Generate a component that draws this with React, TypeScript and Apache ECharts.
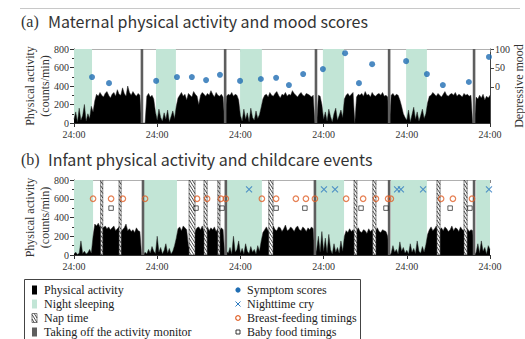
import React, { useEffect, useRef } from "react";
import * as echarts from "echarts";

// ---------- shared axis data ----------
const STEP_HOURS = 0.5; // activity sampled every half hour
const X_MAX = 120;
const X_TICK = 24;
const X_TICK_LABEL = "24:00";
const ACT_MAX = 800;
const ACT_INTERVAL = 200;
const MOOD_MIN = -95;
const MOOD_MAX = 100;
const MOOD_TICKS = [0, 50, 100];

// ---------- (a) maternal ----------
const momActDay1 = [40, 120, 10, 160, 30, 80, 200, 20, 100, 50, 180, 120, 240, 310, 290, 330, 300, 280, 320, 340, 300, 270, 310, 330, 290, 360, 310, 300, 380, 320, 290, 400, 330, 300, 340, 310, 290, 320, 300, 0, 0, 0, 290, 320, 280, 300, 260, 120];
const momActDay2 = [30, 150, 60, 20, 110, 40, 140, 10, 70, 130, 50, 180, 270, 300, 330, 290, 310, 250, 320, 300, 280, 340, 310, 290, 200, 300, 330, 310, 290, 320, 300, 350, 310, 280, 330, 300, 290, 310, 280, 0, 290, 310, 300, 330, 290, 310, 300, 250];
const momActDay3 = [80, 20, 150, 40, 110, 10, 160, 60, 30, 130, 50, 90, 170, 260, 300, 310, 280, 330, 300, 290, 320, 340, 300, 270, 310, 300, 330, 290, 310, 300, 350, 320, 300, 280, 310, 330, 300, 290, 320, 310, 300, 280, 300, 0, 0, 300, 290, 200];
const momActDay4 = [40, 120, 20, 150, 70, 10, 100, 160, 30, 80, 140, 60, 260, 300, 320, 290, 310, 330, 0, 280, 310, 300, 320, 290, 340, 300, 310, 280, 330, 300, 290, 310, 320, 300, 330, 290, 300, 280, 0, 300, 320, 290, 310, 300, 250, 180, 100, 60];
const momActDay5 = [30, 140, 10, 90, 170, 40, 120, 20, 80, 150, 50, 100, 220, 290, 300, 330, 310, 290, 320, 300, 280, 310, 340, 300, 290, 310, 320, 300, 330, 290, 310, 300, 280, 320, 300, 310, 290, 300, 0, 0, 280, 260, 300, 270, 310, 250, 290, 270];
const momActEnd = [300];
const momSleep = [[0, 5.2], [23.65, 29.4], [47.9, 54.2], [71.8, 77.9], [95.8, 101.8]];
const momMonitorOff = [19.6, 43.6, 69.8, 90.9, 115.4];
const moodHours = [5.2, 10.1, 23.7, 29.7, 34.0, 38.1, 42.1, 47.9, 53.9, 58.3, 62.0, 66.1, 71.8, 78.2, 82.2, 86.0, 95.8, 101.8, 106.4, 113.9, 119.7];
const moodScores = [26, 10, 16, 26, 26, 18, 32, 16, 21, 24, 5, 34, 47, 89, 10, 60, 68, 34, 5, 13, 79];

// ---------- (b) infant ----------
const babyActDay1 = [10, 30, 5, 20, 150, 15, 40, 10, 25, 60, 20, 200, 330, 310, 340, 300, 320, 290, 310, 280, 300, 270, 290, 310, 260, 280, 300, 250, 270, 290, 330, 260, 280, 250, 270, 240, 290, 260, 250, 0, 0, 30, 10, 60, 20, 90, 40, 15];
const babyActDay2 = [200, 30, 80, 10, 50, 120, 20, 70, 10, 40, 100, 180, 280, 300, 260, 310, 290, 270, 100, 60, 80, 120, 260, 290, 300, 270, 310, 250, 280, 300, 260, 290, 270, 300, 250, 280, 260, 290, 270, 0, 40, 20, 80, 10, 200, 30, 60, 150];
const babyActDay3 = [20, 70, 10, 120, 40, 15, 90, 30, 60, 10, 100, 40, 150, 240, 270, 300, 260, 250, 280, 310, 270, 260, 300, 290, 250, 280, 320, 260, 270, 300, 280, 250, 290, 310, 270, 260, 300, 280, 250, 290, 270, 300, 280, 0, 60, 200, 30, 250];
const babyActDay4 = [40, 180, 20, 220, 60, 10, 120, 30, 80, 20, 150, 40, 200, 260, 240, 280, 250, 270, 230, 260, 290, 250, 240, 270, 260, 230, 280, 250, 270, 240, 260, 290, 250, 240, 270, 260, 250, 200, 0, 20, 100, 30, 60, 10, 140, 40, 80, 20];
const babyActDay5 = [50, 10, 120, 30, 70, 15, 150, 40, 20, 90, 30, 110, 220, 270, 300, 260, 280, 310, 250, 270, 290, 260, 300, 280, 250, 270, 310, 260, 290, 280, 250, 300, 270, 260, 290, 280, 250, 270, 260, 0, 30, 120, 20, 150, 40, 80, 10, 100];
const babyActEnd = [60];
const babySleep = [[0, 5.5], [20.2, 29.7], [44.1, 54.2], [69.5, 77.9], [91.4, 101.8], [116, 120]];
const babyNaps = [[7.7, 8.3], [13.0, 13.6], [33.2, 34.9], [37.5, 38.4], [41.5, 42.1], [56.2, 57.4], [80.8, 81.6], [86.2, 87.1], [104.7, 105.6], [112.5, 113.4]];
const babyMonitorOff = [19.9, 43.8, 69.5, 90.9, 115.4];
const cryHours = [50.5, 72.1, 75.3, 93.2, 94.3, 100.7, 119.7];
const feedHours = [5.5, 10.7, 14.1, 20.5, 35.5, 38.4, 42.4, 43.8, 54.2, 58.3, 64.0, 66.9, 69.5, 78.5, 83.4, 87.1, 90.6, 91.4, 105.9, 109.3, 114.8];
const foodHours = [10.7, 35.2, 42.7, 58.3, 66.6, 82.8, 90.0, 108.5, 114.2];
const CRY_LEVEL = 700;
const FEED_LEVEL = 600;
const FOOD_LEVEL = 500;

// ---------- texts ----------
const TITLE_A_TAG = "(a)";
const TITLE_A = "Maternal physical activity and mood scores";
const TITLE_B_TAG = "(b)";
const TITLE_B = "Infant physical activity and childcare events";
const ACT_NAME = "Physical activity\n(counts/min)";
const MOOD_NAME = "Depressive mood";
const LEGEND_LEFT = ["Physical activity", "Night sleeping", "Nap time", "Taking off the activity monitor"];
const LEGEND_RIGHT = ["Symptom scores", "Nighttime cry", "Breast-feeding timings", "Baby food timings"];

// ---------- styles ----------
const SERIF = "Liberation Serif";
const SANS = "Noto Sans CJK JP";
const GREEN = "#c2e5d6";
const GRAY = "#5e5e5e";
const BLUE = "#1f6db3";
const CRY_BLUE = "#2f7cc0";
const ORANGE = "#e0622a";
const TEXT = "#333";

const toSeries = (days: number[][]) => {
  const all = ([] as number[]).concat(...days);
  return all.map((v, i) => [i * STEP_HOURS, v]);
};

function hatch(x: number, y: number, w: number, h: number): any {
  const children: any[] = [
    { type: "rect", shape: { x, y, width: w, height: h }, style: { fill: "#fff", stroke: "#333", lineWidth: 0.6 } },
  ];
  const k = 1.6;
  const step = 4.5;
  for (let c = y - w * k; c < y + h; c += step) {
    let x0 = x, y0 = c, x1 = x + w, y1 = c + w * k;
    if (y0 < y) { x0 = x + (y - c) / k; y0 = y; }
    if (y1 > y + h) { x1 = x + (y + h - c) / k; y1 = y + h; }
    if (x1 > x0) children.push({ type: "line", shape: { x1: x0, y1: y0, x2: x1, y2: y1 }, style: { stroke: "#222", lineWidth: 0.8 } });
  }
  return { type: "group", children };
}

const bandSeries = (bands: number[][], xi: number, yi: number, color: string, z: number) => ({
  type: "custom",
  xAxisIndex: xi,
  yAxisIndex: yi,
  z,
  silent: true,
  clip: true,
  data: bands,
  encode: { x: [0, 1] },
  renderItem: (_p: any, api: any) => {
    const a = api.coord([api.value(0), ACT_MAX]);
    const b = api.coord([api.value(1), 0]);
    return { type: "rect", shape: { x: a[0], y: a[1], width: b[0] - a[0], height: b[1] - a[1] }, style: { fill: color } };
  },
});

const napSeries = (naps: number[][], xi: number, yi: number) => ({
  type: "custom",
  xAxisIndex: xi,
  yAxisIndex: yi,
  z: 4,
  silent: true,
  clip: true,
  data: naps,
  encode: { x: [0, 1] },
  renderItem: (_p: any, api: any) => {
    const a = api.coord([api.value(0), ACT_MAX]);
    const b = api.coord([api.value(1), 0]);
    return hatch(a[0], a[1], Math.max(b[0] - a[0], 1.5), b[1] - a[1]);
  },
});

const offSeries = (centers: number[], xi: number, yi: number) => ({
  type: "custom",
  xAxisIndex: xi,
  yAxisIndex: yi,
  z: 5,
  silent: true,
  clip: true,
  data: centers.map((c) => [c]),
  encode: { x: 0 },
  renderItem: (_p: any, api: any) => {
    const a = api.coord([api.value(0), ACT_MAX]);
    const b = api.coord([api.value(0), 0]);
    return { type: "rect", shape: { x: a[0] - 1.3, y: a[1], width: 2.6, height: b[1] - a[1] }, style: { fill: GRAY } };
  },
});

const activitySeries = (data: number[][], xi: number, yi: number) => ({
  type: "line",
  xAxisIndex: xi,
  yAxisIndex: yi,
  z: 3,
  silent: true,
  showSymbol: false,
  symbol: "none",
  data,
  lineStyle: { color: "#222", width: 0.5 },
  areaStyle: { color: "#000", opacity: 1 },
});

const bottomX = (gridIndex: number) => ({
  type: "value",
  gridIndex,
  min: 0,
  max: X_MAX,
  interval: X_TICK,
  position: "bottom",
  axisLine: { onZero: false, lineStyle: { color: "#333", width: 1 } },
  axisTick: { show: true, length: 4, lineStyle: { color: "#333" } },
  axisLabel: { formatter: () => X_TICK_LABEL, fontFamily: SERIF, fontSize: 10, color: TEXT, margin: 6 },
  splitLine: { show: false },
});

const topX = (gridIndex: number) => ({
  type: "value",
  gridIndex,
  min: 0,
  max: X_MAX,
  interval: X_TICK,
  position: "top",
  axisLine: { onZero: false, lineStyle: { color: "#b0b0b0", width: 1 } },
  axisTick: { show: true, inside: true, length: 3, lineStyle: { color: "#888" } },
  axisLabel: { show: false },
  splitLine: { show: false },
});

const actY = (gridIndex: number) => ({
  type: "value",
  gridIndex,
  min: 0,
  max: ACT_MAX,
  interval: ACT_INTERVAL,
  position: "left",
  name: ACT_NAME,
  nameLocation: "middle",
  nameRotate: 90,
  nameGap: 22,
  nameMoveOverlap: false,
  nameTextStyle: { fontFamily: SERIF, fontSize: 12, color: TEXT, lineHeight: 15 },
  axisLine: { show: true, onZero: false, lineStyle: { color: "#333", width: 1 } },
  axisTick: { show: true, length: 4, lineStyle: { color: "#333" } },
  minorTick: { show: true, splitNumber: 2, length: 2, lineStyle: { color: "#333" } },
  axisLabel: { fontFamily: SERIF, fontSize: 10, color: TEXT, margin: 5 },
  splitLine: { show: false },
  minorSplitLine: { show: false },
});

function buildOption(): any {
  const momAct = toSeries([momActDay1, momActDay2, momActDay3, momActDay4, momActDay5, momActEnd]);
  const babyAct = toSeries([babyActDay1, babyActDay2, babyActDay3, babyActDay4, babyActDay5, babyActEnd]);

  const legendY = [290, 304, 318, 332];
  const graphics: any[] = [
    { type: "line", shape: { x1: 20, y1: 8.5, x2: 520, y2: 8.5 }, style: { stroke: "#c8c8c8", lineWidth: 1 } },
    { type: "text", x: 21, y: 21, style: { text: TITLE_A_TAG, font: `16px "${SERIF}"`, fill: TEXT, textVerticalAlign: "middle" } },
    { type: "text", x: 48, y: 21, style: { text: TITLE_A, font: `16px "${SANS}"`, fill: TEXT, textVerticalAlign: "middle" } },
    { type: "text", x: 21, y: 159, style: { text: TITLE_B_TAG, font: `16px "${SERIF}"`, fill: TEXT, textVerticalAlign: "middle" } },
    { type: "text", x: 48, y: 159, style: { text: TITLE_B, font: `16px "${SANS}"`, fill: TEXT, textVerticalAlign: "middle" } },
    { type: "rect", shape: { x: 24.5, y: 279.5, width: 336, height: 70 }, style: { fill: "#fff", stroke: "#444", lineWidth: 1 } },
    { type: "rect", shape: { x: 32, y: legendY[0] - 4.5, width: 5, height: 9 }, style: { fill: "#000" } },
    { type: "rect", shape: { x: 32, y: legendY[1] - 4.5, width: 5, height: 9 }, style: { fill: GREEN } },
    hatch(32, legendY[2] - 4.5, 5, 9),
    { type: "rect", shape: { x: 32, y: legendY[3] - 4.5, width: 5, height: 9 }, style: { fill: GRAY } },
    { type: "circle", shape: { cx: 238, cy: legendY[0], r: 2.6 }, style: { fill: BLUE } },
    { type: "line", shape: { x1: 235.5, y1: legendY[1] - 2.5, x2: 240.5, y2: legendY[1] + 2.5 }, style: { stroke: CRY_BLUE, lineWidth: 1 } },
    { type: "line", shape: { x1: 240.5, y1: legendY[1] - 2.5, x2: 235.5, y2: legendY[1] + 2.5 }, style: { stroke: CRY_BLUE, lineWidth: 1 } },
    { type: "circle", shape: { cx: 238, cy: legendY[2], r: 2.3 }, style: { fill: "#fff", stroke: ORANGE, lineWidth: 1.2 } },
    { type: "rect", shape: { x: 236, y: legendY[3] - 2, width: 4, height: 4 }, style: { fill: "#fff", stroke: "#222", lineWidth: 0.9 } },
  ];
  LEGEND_LEFT.forEach((t, i) => {
    graphics.push({ type: "text", x: 44, y: legendY[i], style: { text: t, font: `12px "${SERIF}"`, fill: "#222", textVerticalAlign: "middle" } });
  });
  LEGEND_RIGHT.forEach((t, i) => {
    graphics.push({ type: "text", x: 247, y: legendY[i], style: { text: t, font: `12px "${SERIF}"`, fill: "#222", textVerticalAlign: "middle" } });
  });

  return {
    animation: false,
    backgroundColor: "#fff",
    grid: [
      { left: 74, right: 35, top: 49, height: 74, outerBoundsMode: "none" },
      { left: 74, right: 35, top: 180, height: 75, outerBoundsMode: "none" },
    ],
    xAxis: [bottomX(0), topX(0), bottomX(1), topX(1)],
    yAxis: [
      actY(0),
      {
        type: "value",
        gridIndex: 0,
        min: MOOD_MIN,
        max: MOOD_MAX,
        position: "right",
        name: MOOD_NAME,
        nameLocation: "middle",
        nameRotate: 90,
        nameGap: 23,
        nameMoveOverlap: false,
        nameTextStyle: { fontFamily: SERIF, fontSize: 12, color: TEXT },
        axisLine: { show: true, onZero: false, lineStyle: { color: "#444", width: 1 } },
        axisTick: { show: true, length: 4, customValues: MOOD_TICKS, lineStyle: { color: "#444" } },
        axisLabel: { customValues: MOOD_TICKS, fontFamily: SERIF, fontSize: 10, color: TEXT, margin: 5 },
        splitLine: { show: false },
      },
      actY(1),
    ],
    graphic: graphics,
    series: [
      bandSeries(momSleep, 0, 0, GREEN, 1),
      activitySeries(momAct, 0, 0),
      offSeries(momMonitorOff, 0, 0),
      {
        type: "scatter",
        xAxisIndex: 0,
        yAxisIndex: 1,
        z: 6,
        symbol: "circle",
        symbolSize: 6,
        itemStyle: { color: BLUE },
        data: moodHours.map((h, i) => [h, moodScores[i]]),
      },
      bandSeries(babySleep, 2, 2, GREEN, 1),
      activitySeries(babyAct, 2, 2),
      napSeries(babyNaps, 2, 2),
      offSeries(babyMonitorOff, 2, 2),
      {
        type: "scatter",
        xAxisIndex: 2,
        yAxisIndex: 2,
        z: 6,
        symbol: "path://M0 0L10 10M10 0L0 10",
        symbolSize: 6,
        itemStyle: { color: "none", borderColor: CRY_BLUE, borderWidth: 1.1 },
        data: cryHours.map((h) => [h, CRY_LEVEL]),
      },
      {
        type: "scatter",
        xAxisIndex: 2,
        yAxisIndex: 2,
        z: 6,
        symbol: "circle",
        symbolSize: 5.5,
        itemStyle: { color: "rgba(255,255,255,0)", borderColor: ORANGE, borderWidth: 1.2 },
        data: feedHours.map((h) => [h, FEED_LEVEL]),
      },
      {
        type: "scatter",
        xAxisIndex: 2,
        yAxisIndex: 2,
        z: 6,
        symbol: "rect",
        symbolSize: 4.5,
        itemStyle: { color: "rgba(255,255,255,0)", borderColor: "#222", borderWidth: 0.9 },
        data: foodHours.map((h) => [h, FOOD_LEVEL]),
      },
    ],
  };
}

export default function App() {
  const ref = useRef<HTMLDivElement | null>(null);
  useEffect(() => {
    if (!ref.current) return;
    const chart = echarts.init(ref.current, undefined, { renderer: "svg" });
    chart.setOption(buildOption());
    return () => chart.dispose();
  }, []);
  return <div ref={ref} style={{ position: "absolute", left: 0, top: 0, width: 525, height: 339 }} />;
}
